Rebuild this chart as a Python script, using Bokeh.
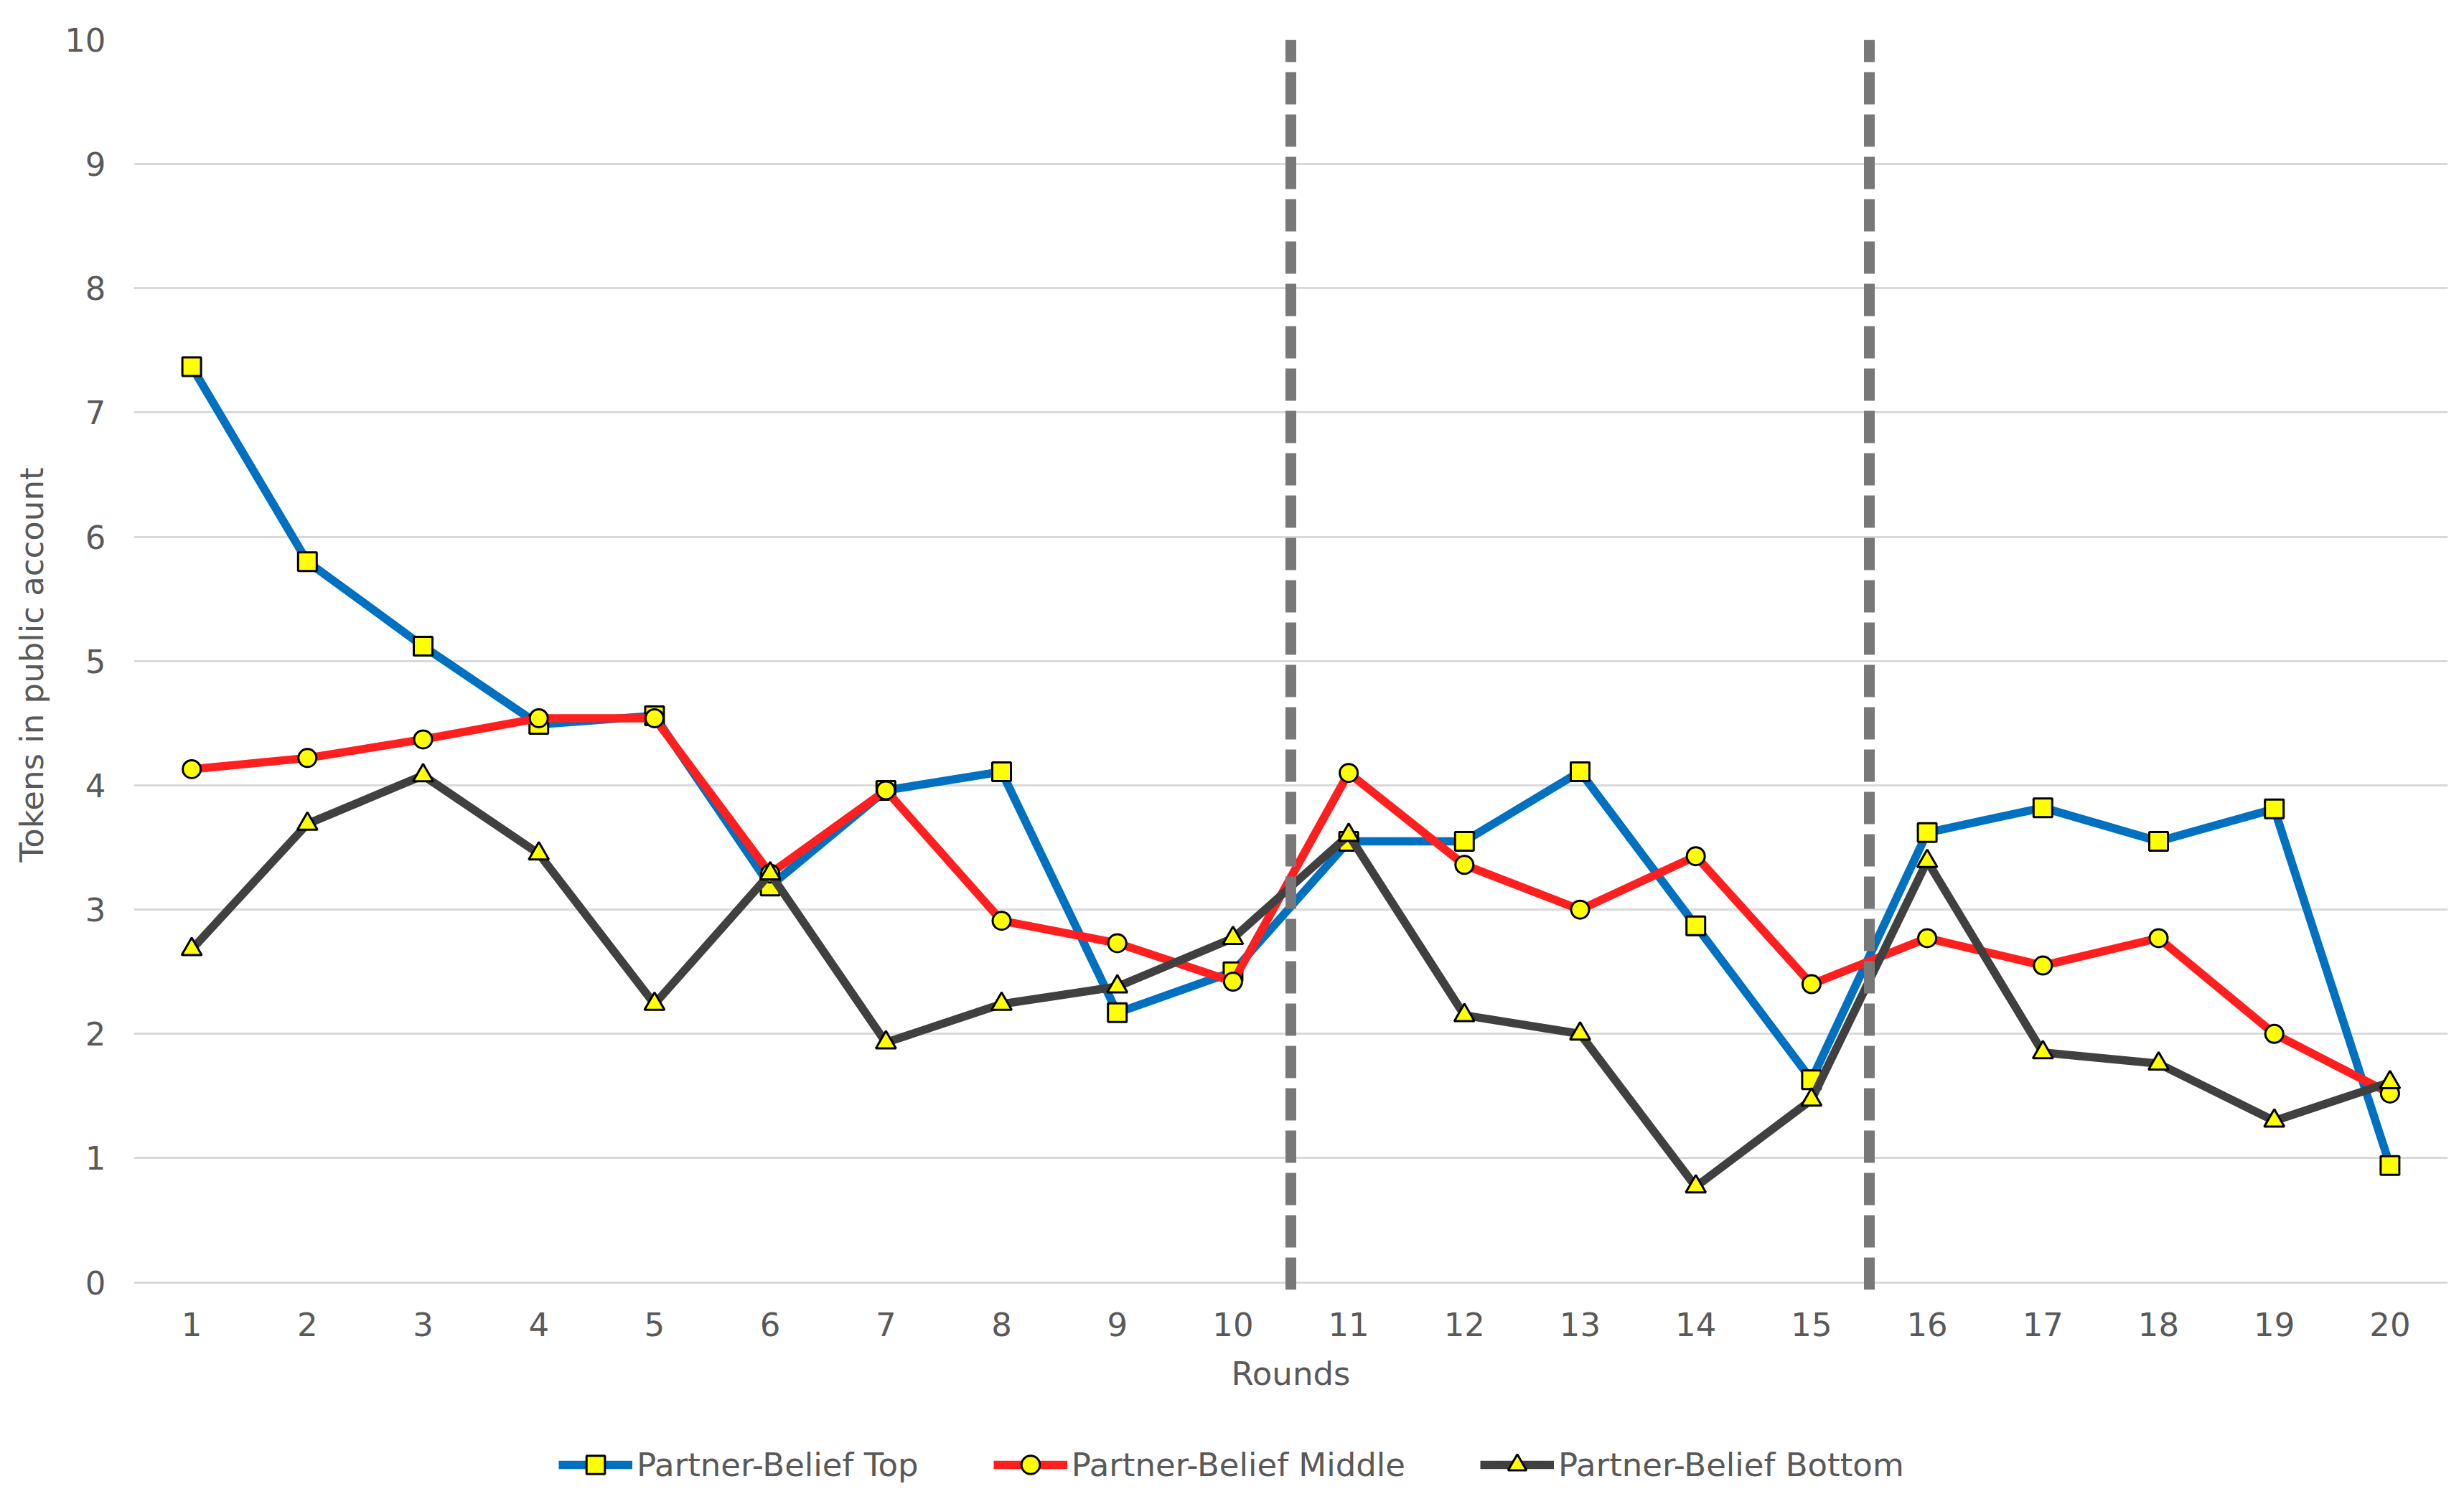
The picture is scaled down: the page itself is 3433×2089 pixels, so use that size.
from bokeh.plotting import figure
from bokeh.models import Range1d, FixedTicker, Legend, LegendItem
from bokeh.layouts import column
from bokeh.embed import file_html
from bokeh.resources import INLINE

rounds = list(range(1, 21))
top = [7.37, 5.80, 5.12, 4.49, 4.56, 3.19, 3.96, 4.11, 2.17, 2.50,
       3.55, 3.55, 4.11, 2.87, 1.63, 3.62, 3.82, 3.55, 3.81, 0.94]
middle = [4.13, 4.22, 4.37, 4.54, 4.54, 3.29, 3.96, 2.91, 2.73, 2.42,
          4.10, 3.36, 3.00, 3.43, 2.40, 2.77, 2.55, 2.77, 2.00, 1.52]
bottom = [2.68, 3.69, 4.08, 3.45, 2.24, 3.29, 1.93, 2.24, 2.38, 2.77,
          3.60, 2.15, 2.00, 0.77, 1.47, 3.39, 1.85, 1.76, 1.30, 1.61]
series_names = ["Partner-Belief Top", "Partner-Belief Middle", "Partner-Belief Bottom"]
phase_breaks = [10.5, 15.5]
y_ticks = list(range(0, 11))

FONT = "DejaVu Sans"
TXT = "#595959"
W = 3417

p = figure(width=W, height=1990, output_backend="svg", toolbar_location=None,
           x_range=Range1d(0.5, 20.5), y_range=Range1d(-0.06, 10),
           min_border_left=186, min_border_right=7, min_border_top=55,
           min_border_bottom=193)
p.outline_line_color = None
p.background_fill_color = "white"

p.xgrid.visible = False
p.ygrid.grid_line_color = "#D9D9D9"
p.ygrid.grid_line_width = 3
p.ygrid.ticker = FixedTicker(ticks=y_ticks)

for ax in (p.xaxis[0], p.yaxis[0]):
    ax.axis_line_color = None
    ax.major_tick_line_color = None
    ax.minor_tick_line_color = None
    ax.major_tick_out = 0
    ax.minor_tick_out = 0
    ax.major_label_text_font = FONT
    ax.major_label_text_font_size = "45px"
    ax.major_label_text_color = TXT
    ax.axis_label_text_font = FONT
    ax.axis_label_text_font_size = "45px"
    ax.axis_label_text_font_style = "normal"
    ax.axis_label_text_color = TXT

p.xaxis.ticker = FixedTicker(ticks=rounds)
p.yaxis.ticker = FixedTicker(ticks=y_ticks)
p.xaxis.major_label_standoff = 31
p.yaxis.major_label_standoff = 39
p.xaxis.axis_label = "Rounds"
p.xaxis.axis_label_standoff = 23
p.yaxis.axis_label = "Tokens in public account"
p.yaxis.axis_label_standoff = 16

colors = ["#0070C0", "#FF1F1F", "#404040"]
markers = ["square", "circle", "triangle"]
msizes = [26, 25, 28]
series = [top, middle, bottom]
for vals, col, mk, ms in zip(series, colors, markers, msizes):
    p.line(rounds, vals, line_color=col, line_width=11.5, line_join="round")
    p.scatter(rounds, vals, marker=mk, size=ms, fill_color="#FFFF00",
              line_color="black", line_width=3)

p.segment(x0=phase_breaks, x1=phase_breaks, y0=[-0.06] * 2, y1=[10] * 2,
          line_color="#787878", line_width=15, line_dash="45 14")

# legend strip below the chart (its own series renderers sit outside its view)
lg = figure(width=W, height=90, output_backend="svg", toolbar_location=None,
            x_range=Range1d(-3, -2), y_range=Range1d(-3, -2),
            x_axis_location=None, y_axis_location=None,
            min_border=0, min_border_left=0, min_border_right=0,
            min_border_top=0, min_border_bottom=0)
lg.grid.visible = False
lg.outline_line_color = None
items = []
for name, vals, col, mk, ms in zip(series_names, series, colors, markers, msizes):
    r1 = lg.line(rounds, vals, line_color=col, line_width=11.5)
    r2 = lg.scatter(rounds, vals, marker=mk, size=ms, fill_color="#FFFF00",
                    line_color="black", line_width=3)
    items.append(LegendItem(label=name, renderers=[r1, r2]))

legend = Legend(items=items, orientation="horizontal", location=(592, 7),
                glyph_width=103, glyph_height=64, label_height=40,
                label_standoff=6, spacing=104, padding=5, margin=0,
                label_text_font=FONT, label_text_font_size="45px",
                label_text_color=TXT, border_line_color=None,
                background_fill_alpha=0)
lg.add_layout(legend, "center")

layout = column(p, lg, spacing=0)
open("out.html", "w").write(file_html(layout, INLINE))
